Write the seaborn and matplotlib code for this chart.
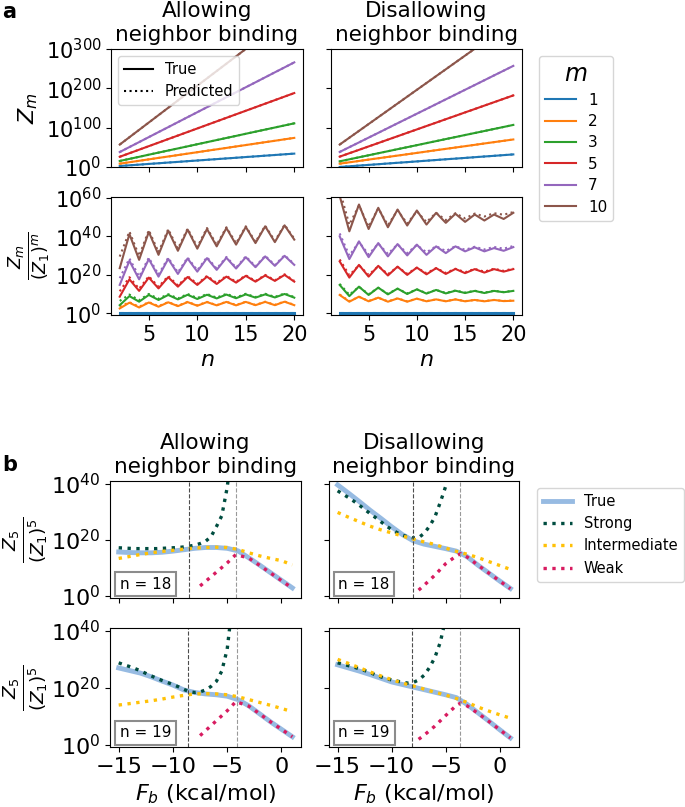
import numpy as np
import matplotlib
matplotlib.use("Agg")
import matplotlib.pyplot as plt
from matplotlib.lines import Line2D
import seaborn as sns

# ---------------- panel a data (log10 values) ----------------
n_vals = list(range(2, 21))
m_vals = [1, 2, 3, 5, 7, 10]
m_colors = sns.color_palette("tab10", 6)

# log10 Z_m, allowing neighbor binding
zm_allow = {
    1: [2.5, 4.3, 6.0, 7.8, 9.5, 11.3, 13.0, 14.8, 16.5, 18.3, 20.0, 21.8, 23.5, 25.3, 27.0, 28.8, 30.5, 32.3, 34.0],
    2: [8.5, 12.1, 15.8, 19.4, 23.1, 26.7, 30.3, 34.0, 37.6, 41.3, 44.9, 48.5, 52.2, 55.8, 59.5, 63.1, 66.7, 70.4, 74.0],
    3: [15.3, 20.6, 25.9, 31.3, 36.6, 41.9, 47.2, 52.5, 57.9, 63.2, 68.5, 73.8, 79.1, 84.5, 89.8, 95.1, 100.4, 105.7, 111.0],
    5: [26, 35, 44, 53, 62, 71, 80, 89, 98, 107, 116, 125, 134, 143, 152, 161, 170, 179, 188],
    7: [38, 50.7, 63.3, 76, 88.7, 101.3, 114, 126.7, 139.3, 152, 164.7, 177.3, 190, 202.7, 215.3, 228, 240.7, 253.3, 266],
    10: [57, 75.7, 94.4, 113.1, 131.8, 150.5, 169.2, 187.9, 206.6, 225.3, 244, 262.7, 281.4, 300.1, 318.8, 337.5, 356.2, 374.9, 393.6],
}
# log10 Z_m, disallowing neighbor binding
zm_disallow = {
    1: [0.0, 1.8, 3.6, 5.3, 7.1, 8.9, 10.7, 12.4, 14.2, 16.0, 17.8, 19.6, 21.3, 23.1, 24.9, 26.7, 28.4, 30.2, 32.0],
    2: [8.5, 11.9, 15.3, 18.8, 22.2, 25.6, 29.0, 32.4, 35.8, 39.3, 42.7, 46.1, 49.5, 52.9, 56.3, 59.8, 63.2, 66.6, 70.0],
    3: [14.4, 19.5, 24.7, 29.8, 35.0, 40.1, 45.3, 50.4, 55.5, 60.7, 65.8, 71.0, 76.1, 81.3, 86.4, 91.5, 96.7, 101.8, 107.0],
    5: [26.3, 35.0, 43.6, 52.3, 60.9, 69.6, 78.2, 86.9, 95.5, 104.2, 112.8, 121.5, 130.1, 138.8, 147.4, 156.1, 164.7, 173.4, 182.0],
    7: [38.2, 50.4, 62.5, 74.7, 86.8, 99.0, 111.2, 123.3, 135.5, 147.6, 159.8, 172.0, 184.1, 196.3, 208.4, 220.6, 232.8, 244.9, 257.1],
    10: [57, 74.4, 91.8, 109.2, 126.6, 144, 161.4, 178.8, 196.2, 213.6, 231, 248.4, 265.8, 283.2, 300.6, 318, 335.4, 352.8, 370.2],
}

# log10 Z_m / (Z_1)^m
ratio_allow_true = {
    1: [0.0] * 19,
    2: [2.6, 5.6, 3.1, 5.7, 3.5, 5.8, 3.8, 5.9, 4.0, 5.9, 4.2, 6.0, 4.2, 6.0, 4.3, 6.0, 4.3, 6.1, 4.3],
    3: [4.3, 9.0, 6.1, 9.6, 7.0, 9.6, 7.3, 9.7, 7.5, 9.7, 7.8, 9.8, 7.9, 9.9, 8.2, 9.9, 8.3, 10.1, 8.2],
    5: [8.7, 17.7, 11.7, 18.6, 13.0, 18.8, 13.9, 18.9, 14.8, 19.1, 15.3, 19.1, 16.0, 19.5, 16.5, 19.7, 16.9, 20.0, 16.5],
    7: [14.8, 27.3, 17.7, 28.2, 19.1, 28.3, 20.5, 28.5, 21.7, 28.7, 22.6, 28.9, 23.3, 29.2, 24.0, 29.6, 24.7, 29.9, 25.2],
    10: [23.5, 41.2, 27.8, 42.3, 30.4, 43.0, 32.5, 43.5, 33.6, 43.8, 34.8, 44.3, 35.7, 44.9, 36.5, 45.2, 37.0, 45.7, 38.3],
}
ratio_allow_pred = {
    1: [0.0] * 19,
    2: [3.6, 5.8, 3.5, 5.9, 3.8, 5.9, 4.0, 6.0, 4.2, 6.0, 4.3, 6.1, 4.4, 6.1, 4.4, 6.1, 4.5, 6.2, 4.5],
    3: [6.5, 9.8, 6.9, 10.1, 7.6, 10.0, 7.8, 10.1, 8.0, 10.1, 8.2, 10.2, 8.3, 10.2, 8.5, 10.2, 8.6, 10.4, 8.5],
    5: [11.5, 18.8, 12.8, 19.3, 13.8, 19.4, 14.5, 19.4, 15.3, 19.5, 15.8, 19.5, 16.4, 19.8, 16.8, 20.0, 17.2, 20.3, 16.9],
    7: [18.3, 28.5, 19.2, 28.9, 20.2, 28.9, 21.3, 29.0, 22.4, 29.2, 23.2, 29.3, 23.8, 29.6, 24.4, 29.9, 25.1, 30.2, 25.6],
    10: [29.5, 42.5, 29.8, 43.2, 31.8, 43.7, 33.6, 44.0, 34.5, 44.3, 35.6, 44.7, 36.4, 45.2, 37.1, 45.5, 37.6, 46.0, 38.8],
}
ratio_disallow_true = {
    1: [0.0] * 19,
    2: [9.6, 6.1, 8.7, 6.3, 8.2, 6.1, 7.8, 6.1, 7.7, 6.3, 7.3, 6.3, 7.3, 6.3, 7.0, 6.3, 7.0, 6.4, 6.6],
    3: [14.8, 9.0, 13.9, 9.6, 13.4, 9.9, 12.9, 10.1, 12.5, 10.3, 12.2, 10.4, 11.8, 10.6, 11.7, 10.6, 11.7, 11.0, 11.7],
    5: [27.0, 18.6, 25.2, 19.1, 24.7, 19.7, 24.3, 20.0, 23.8, 20.3, 23.5, 20.5, 23.1, 20.9, 23.0, 21.2, 23.0, 21.7, 23.0],
    7: [40.0, 28.2, 37.4, 29.2, 36.5, 29.6, 36.0, 30.1, 35.7, 30.4, 34.8, 31.3, 34.8, 32.2, 34.3, 32.2, 33.9, 32.5, 34.4],
    10: [61.0, 42.6, 56.5, 43.8, 54.8, 44.7, 53.9, 45.6, 53.4, 46.1, 52.2, 47.0, 51.7, 47.5, 51.3, 48.2, 51.3, 49.0, 52.2],
}
ratio_disallow_pred = {
    1: [0.0] * 19,
    2: [9.8, 6.4, 8.6, 6.5, 8.1, 6.3, 7.8, 6.3, 7.6, 6.4, 7.3, 6.4, 7.3, 6.4, 7.0, 6.4, 7.0, 6.5, 6.7],
    3: [15.3, 9.7, 13.8, 10.0, 13.3, 10.2, 12.8, 10.4, 12.5, 10.5, 12.2, 10.6, 11.9, 10.8, 11.8, 10.8, 11.8, 11.1, 11.8],
    5: [28.0, 19.8, 25.0, 20.0, 24.5, 20.4, 24.1, 20.6, 23.7, 20.9, 23.5, 21.0, 23.2, 21.4, 23.1, 21.7, 23.2, 22.1, 23.3],
    7: [41.5, 30.0, 37.0, 30.6, 36.2, 30.9, 35.8, 31.3, 35.5, 31.7, 34.9, 32.4, 34.9, 33.0, 34.6, 33.2, 34.5, 33.6, 35.0],
    10: [64.0, 46.0, 56.0, 45.0, 54.5, 45.8, 53.5, 46.6, 53.0, 47.4, 52.2, 48.4, 52.0, 49.3, 51.8, 50.3, 52.0, 51.2, 52.6],
}

# ---------------- panel b data (log10 Z_5/(Z_1)^5) ----------------
fb_grid = list(range(-15, 2))
fb_strong = [-15 + 0.5 * i for i in range(22)]   # -15 ... -4.5
fb_weak_left = [-7.5, -7, -6, -5, -4.2, -3, -2, -1, 0, 1]
fb_weak_right = [-7.5, -7, -6, -5, -4, -3.6, -3, -2, -1, 0, 1]

# allowing, n = 18
true_a18 = [15.6, 15.4, 15.3, 15.3, 15.5, 15.9, 16.4, 16.9, 17.2, 17.2, 16.9, 16.0, 13.5, 10.9, 8.2, 5.5, 2.8]
strong_a18 = [17.1, 17.0, 16.9, 16.8, 16.8, 16.8, 16.8, 16.8, 16.9, 17.0, 17.1, 17.2, 17.4, 17.7, 18.0, 18.6,
              19.4, 21.0, 24.6, 28.5, 38.6, 55.0]
inter_a18 = [13.3, 14.0, 14.7, 15.3, 15.8, 16.2, 16.6, 17.0, 17.2, 17.3, 17.2, 16.5, 15.3, 14.2, 13.3, 12.5, 11.0]
weak_a18 = [3.5, 5.1, 8.4, 11.7, 14.7, 13.4, 10.8, 8.1, 5.4, 2.7]
# disallowing, n = 18
true_d18 = [39.5, 36.6, 33.6, 30.5, 27.6, 24.6, 21.8, 19.6, 18.4, 17.6, 16.8, 15.9, 13.9, 10.9, 8.1, 5.3, 2.6]
strong_d18 = [37.4, 36.2, 35.0, 33.7, 32.3, 30.8, 29.3, 27.9, 26.4, 24.9, 23.6, 22.5, 21.6, 21.0, 20.6, 20.7,
              22.2, 24.7, 28.0, 33.2, 38.9, 52.0]
inter_d18 = [29.7, 28.0, 26.4, 24.8, 23.5, 22.4, 21.3, 20.2, 19.2, 18.3, 17.0, 15.8, 14.8, 13.6, 12.2, 10.8, 9.4]
weak_d18 = [2.0, 3.7, 7.3, 11.4, 14.2, 15.0, 13.8, 10.9, 8.1, 5.3, 2.5]
# allowing, n = 19
true_a19 = [26.9, 26.0, 25.1, 23.8, 22.3, 20.9, 19.2, 18.3, 17.8, 17.5, 17.0, 15.8, 13.6, 10.8, 8.0, 5.4, 2.8]
strong_a19 = [28.7, 28.0, 27.4, 26.7, 25.9, 25.0, 24.1, 23.3, 22.5, 21.8, 21.1, 20.3, 19.4, 18.6, 18.3, 18.5,
              19.2, 20.4, 22.2, 25.8, 33.5, 50.0]
inter_a19 = [13.9, 14.4, 14.9, 15.4, 16.0, 16.7, 17.3, 17.8, 17.9, 17.8, 17.5, 16.8, 15.8, 14.8, 13.8, 12.7, 11.6]
weak_a19 = [3.2, 4.9, 8.4, 11.9, 15.1, 13.5, 10.8, 8.0, 5.4, 2.8]
# disallowing, n = 19
true_d19 = [28.0, 26.9, 25.8, 24.6, 23.3, 22.0, 21.1, 20.2, 19.3, 18.4, 17.5, 16.5, 14.1, 11.2, 8.3, 5.3, 2.4]
strong_d19 = [28.7, 28.2, 27.7, 27.2, 26.6, 26.0, 25.3, 24.5, 23.8, 23.2, 22.7, 22.3, 21.9, 21.6, 21.8, 22.7,
              24.3, 27.0, 30.5, 35.8, 44.0, 55.0]
inter_d19 = [29.9, 28.5, 27.0, 25.5, 24.1, 22.8, 21.6, 20.6, 19.5, 18.4, 17.4, 16.2, 14.8, 13.2, 11.8, 10.5, 9.3]
weak_d19 = [1.9, 3.3, 6.5, 10.2, 13.8, 14.6, 13.6, 11.0, 8.2, 5.3, 2.4]

# regime boundaries (kcal/mol)
vlines_a18 = [-8.5, -4.2]
vlines_d18 = [-8.0, -3.7]
vlines_a19 = [-8.6, -4.1]
vlines_d19 = [-8.15, -3.65]

c_true = "#97bbe2"
c_strong = "#004D40"
c_inter = "#FFC107"
c_weak = "#D81B60"

# ---------------- figure ----------------
W, H = 685, 807
fig = plt.figure(figsize=(W / 100, H / 100), dpi=100)


def px_axes(x0, y0, x1, y1):
    return fig.add_axes([x0 / W, 1 - y1 / H, (x1 - x0) / W, (y1 - y0) / H])


def log_ticks(ax, vals, show):
    ax.set_yticks(vals)
    if show:
        ax.set_yticklabels([f"$10^{{{v}}}$" for v in vals])
    else:
        ax.set_yticklabels([])


fs_tick = 15
fs_title = 15.5

# panel a
axa = [[px_axes(111, 49, 303, 167), px_axes(331, 49, 522, 167)],
       [px_axes(111, 197, 303, 315), px_axes(331, 197, 522, 315)]]
tops = [zm_allow, zm_disallow]
bots_t = [ratio_allow_true, ratio_disallow_true]
bots_p = [ratio_allow_pred, ratio_disallow_pred]
for j in range(2):
    ax_t, ax_b = axa[0][j], axa[1][j]
    for k, m in enumerate(m_vals):
        col = m_colors[k]
        lw = 2.2 if m == 1 else 1.5
        sns.lineplot(x=n_vals, y=tops[j][m], ax=ax_t, color=col, lw=1.5)
        sns.lineplot(x=n_vals, y=tops[j][m], ax=ax_t, color=col, lw=1.5, ls=":")
        sns.lineplot(x=n_vals, y=bots_t[j][m], ax=ax_b, color=col, lw=lw)
        sns.lineplot(x=n_vals, y=bots_p[j][m], ax=ax_b, color=col, lw=lw, ls=":")
    ax_t.set_ylim(0, 300)
    ax_b.set_ylim(-0.8, 60.4)
    log_ticks(ax_t, [0, 100, 200, 300], j == 0)
    log_ticks(ax_b, [0, 20, 40, 60], j == 0)
    for ax in (ax_t, ax_b):
        ax.set_xticks([5, 10, 15, 20])
        ax.tick_params(labelsize=fs_tick)
    ax_t.set_xticklabels([])
    ax_b.set_xlabel("$n$", fontsize=16)

axa[0][0].set_title("Allowing\nneighbor binding", fontsize=fs_title)
axa[0][1].set_title("Disallowing\nneighbor binding", fontsize=fs_title)
axa[0][0].set_ylabel("$Z_m$", fontsize=16)
axa[1][0].set_ylabel(r"$\frac{Z_m}{(Z_1)^m}$", fontsize=18, labelpad=2)

h1 = [Line2D([], [], color="k", lw=1.5), Line2D([], [], color="k", lw=1.5, ls=":")]
axa[0][0].legend(h1, ["True", "Predicted"], loc="upper left", fontsize=10.5)
hm = [Line2D([], [], color=m_colors[k], lw=1.5) for k in range(6)]
axa[0][1].legend(hm, [str(m) for m in m_vals], title="$m$", fontsize=11,
                 title_fontsize=17, loc="upper left", borderaxespad=0, labelspacing=0.42,
                 bbox_to_anchor=(539 / W, 1 - 56 / H), bbox_transform=fig.transFigure)

# panel b
axb = [[px_axes(110, 481, 301, 598), px_axes(329, 481, 519, 598)],
       [px_axes(110, 628, 301, 747), px_axes(329, 628, 519, 747)]]
series = [[(true_a18, strong_a18, inter_a18, weak_a18, fb_weak_left, vlines_a18, 18),
           (true_d18, strong_d18, inter_d18, weak_d18, fb_weak_right, vlines_d18, 18)],
          [(true_a19, strong_a19, inter_a19, weak_a19, fb_weak_left, vlines_a19, 19),
           (true_d19, strong_d19, inter_d19, weak_d19, fb_weak_right, vlines_d19, 19)]]
for i in range(2):
    for j in range(2):
        ax = axb[i][j]
        tr, st, it, wk, fbw, vl, nn = series[i][j]
        sns.lineplot(x=fb_grid, y=tr, ax=ax, color=c_true, lw=3.5)
        sns.lineplot(x=fb_strong, y=st, ax=ax, color=c_strong, lw=2.4, ls=":")
        sns.lineplot(x=fb_grid, y=it, ax=ax, color=c_inter, lw=2.4, ls=":")
        sns.lineplot(x=fbw, y=wk, ax=ax, color=c_weak, lw=2.4, ls=":")
        ax.axvline(vl[0], color="0.3", lw=0.8, ls="--")
        ax.axvline(vl[1], color="0.6", lw=0.8, ls="--")
        ax.set_xlim(-15.8, 1.8)
        ax.set_ylim(-0.8, 40.9)
        log_ticks(ax, [0, 20, 40], j == 0)
        ax.set_xticks([-15, -10, -5, 0])
        ax.tick_params(labelsize=16)
        if i == 0:
            ax.set_xticklabels([])
        else:
            ax.set_xlabel("$F_b$ (kcal/mol)", fontsize=16)
        if j == 0:
            ax.set_ylabel(r"$\frac{Z_5}{(Z_1)^5}$", fontsize=19, labelpad=1)
        ax.text(0.05, 0.08, f"n = {nn}", transform=ax.transAxes, fontsize=11,
                bbox=dict(boxstyle="square,pad=0.3", fc="white", ec="0.55", lw=1.5))

axb[0][0].set_title("Allowing\nneighbor binding", fontsize=fs_title)
axb[0][1].set_title("Disallowing\nneighbor binding", fontsize=fs_title)

hb = [Line2D([], [], color=c_true, lw=3.5),
      Line2D([], [], color=c_strong, lw=2.4, ls=":"),
      Line2D([], [], color=c_inter, lw=2.4, ls=":"),
      Line2D([], [], color=c_weak, lw=2.4, ls=":")]
axb[0][1].legend(hb, ["True", "Strong", "Intermediate", "Weak"], fontsize=10.5,
                 loc="upper left", borderaxespad=0, bbox_to_anchor=(537 / W, 1 - 488 / H),
                 bbox_transform=fig.transFigure)

fig.text(2 / W, 1 - 2 / H, "a", fontsize=15, fontweight="bold", va="top")
fig.text(2 / W, 1 - 455 / H, "b", fontsize=15, fontweight="bold", va="top")

fig.savefig("out.png", dpi=100)
